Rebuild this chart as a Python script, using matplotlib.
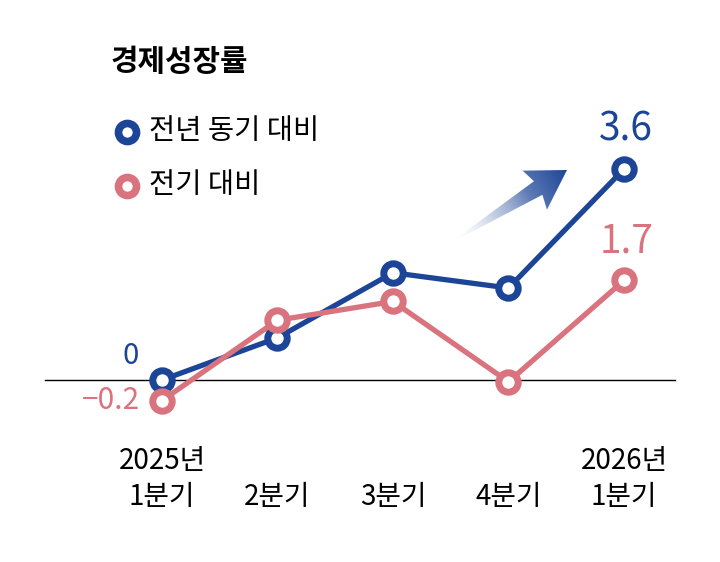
import numpy as np
import matplotlib
matplotlib.use("Agg")
import matplotlib.pyplot as plt
from matplotlib.patches import Polygon
from matplotlib.transforms import blended_transform_factory

plt.rcParams['font.family'] = ['Noto Sans CJK KR', 'DejaVu Sans']

# data
quarters = ["1분기", "2분기", "3분기", "4분기", "1분기"]
years = ["2025년", "", "", "", "2026년"]
yoy = [0.0, 0.72, 1.83, 1.57, 3.6]      # 전년 동기 대비
qoq = [-0.35, 1.02, 1.34, -0.03, 1.7]   # 전기 대비
yoy_labels = {0: "0", 4: "3.6"}
qoq_labels = {0: "\u22120.2", 4: "1.7"}

blue = "#1d4597"
pink = "#d9737e"

W, H = 720, 562
fig = plt.figure(figsize=(W / 100, H / 100), dpi=100)

# main axes mapped to pixel layout: x=0 at 162px, step 115.5px; y=0 at 380px, 58.6px/unit
x0, dx = 162, 115.5
y0, dy = 380, 58.6
ax = fig.add_axes([0, 0, 1, 1])
ax.set_xlim(-x0 / dx, (W - x0) / dx)
ax.set_ylim(-(H - y0) / dy, y0 / dy)
ax.axis("off")

x = np.arange(len(quarters))

# zero line
ax.plot([(45 - x0) / dx, (675 - x0) / dx], [0, 0], color="black", lw=1.0, zorder=1)

mk = dict(marker="o", ms=14, mew=5, mfc="white", lw=3.8, solid_capstyle="round")
ax.plot(x, yoy, color=blue, mec=blue, zorder=3, **mk)
ax.plot(x, qoq, color=pink, mec=pink, zorder=4, **mk)

# value labels
ax.text(x[0] - 0.2, yoy[0] + 0.15, yoy_labels[0], color=blue, fontsize=21,
        ha="right", va="bottom")
ax.text(x[0] - 0.19, qoq[0], qoq_labels[0], color=pink, fontsize=21.5,
        ha="right", va="center")
ax.text(x[4] + 0.02, yoy[4] + 0.33, yoy_labels[4], color=blue, fontsize=28,
        ha="center", va="bottom")
ax.text(x[4] + 0.02, qoq[4] + 0.33, qoq_labels[4], color=pink, fontsize=28,
        ha="center", va="bottom")

# category labels
tr = blended_transform_factory(ax.transData, fig.transFigure)
for i, (q, yr) in enumerate(zip(quarters, years)):
    ax.text(x[i], 1 - 497 / H, q, transform=tr, fontsize=20, ha="center", va="center")
    if yr:
        ax.text(x[i], 1 - 461 / H, yr, transform=tr, fontsize=20, ha="center", va="center")

# title and legend (pixel overlay)
ov = fig.add_axes([0, 0, 1, 1], facecolor="none")
ov.set_xlim(0, W)
ov.set_ylim(H, 0)
ov.axis("off")

ov.text(111, 62, "경제성장률", fontsize=21.5, fontweight="heavy", ha="left", va="center")
ov.plot([127], [132], marker="o", ms=13, mew=5.5, mfc="white", mec=blue)
ov.plot([127], [186], marker="o", ms=13, mew=5.5, mfc="white", mec=pink)
ov.text(149, 131, "전년 동기 대비", fontsize=20.5, ha="left", va="center")
ov.text(149, 185, "전기 대비", fontsize=20.5, ha="left", va="center")

# gradient arrow
tail = np.array([455.0, 240.0])
tip = np.array([567.0, 170.0])
u = (tip - tail) / np.linalg.norm(tip - tail)
n = np.array([u[1] * -1, u[0]]) * -1
L = np.linalg.norm(tip - tail)
local = [(0, -0.6), (L - 34, -8), (L - 38, -23), (L, 0), (L - 38, 23), (L - 34, 8), (0, 0.6)]
pts = np.array([tail + s * u + t * n for s, t in local])
poly = Polygon(pts, closed=True, facecolor="none", edgecolor="none")
ov.add_patch(poly)

xmin, ymin = pts.min(axis=0) - 2
xmax, ymax = pts.max(axis=0) + 2
gx, gy = np.meshgrid(np.linspace(xmin, xmax, 200), np.linspace(ymin, ymax, 200))
proj = ((gx - tail[0]) * u[0] + (gy - tail[1]) * u[1]) / L
proj = np.clip(proj, 0, 1)
c = np.array(matplotlib.colors.to_rgb(blue))
frac = proj ** 0.8
img = np.ones((200, 200, 4))
for k in range(3):
    img[..., k] = 1 - frac * (1 - c[k])
img[..., 3] = np.clip(frac * 1.4, 0, 1)
im = ov.imshow(img, extent=(xmin, xmax, ymax, ymin), origin="upper", zorder=2,
               interpolation="bilinear")
im.set_clip_path(poly)
ov.set_xlim(0, W)
ov.set_ylim(H, 0)

fig.savefig("out.png", dpi=100, facecolor="white")
